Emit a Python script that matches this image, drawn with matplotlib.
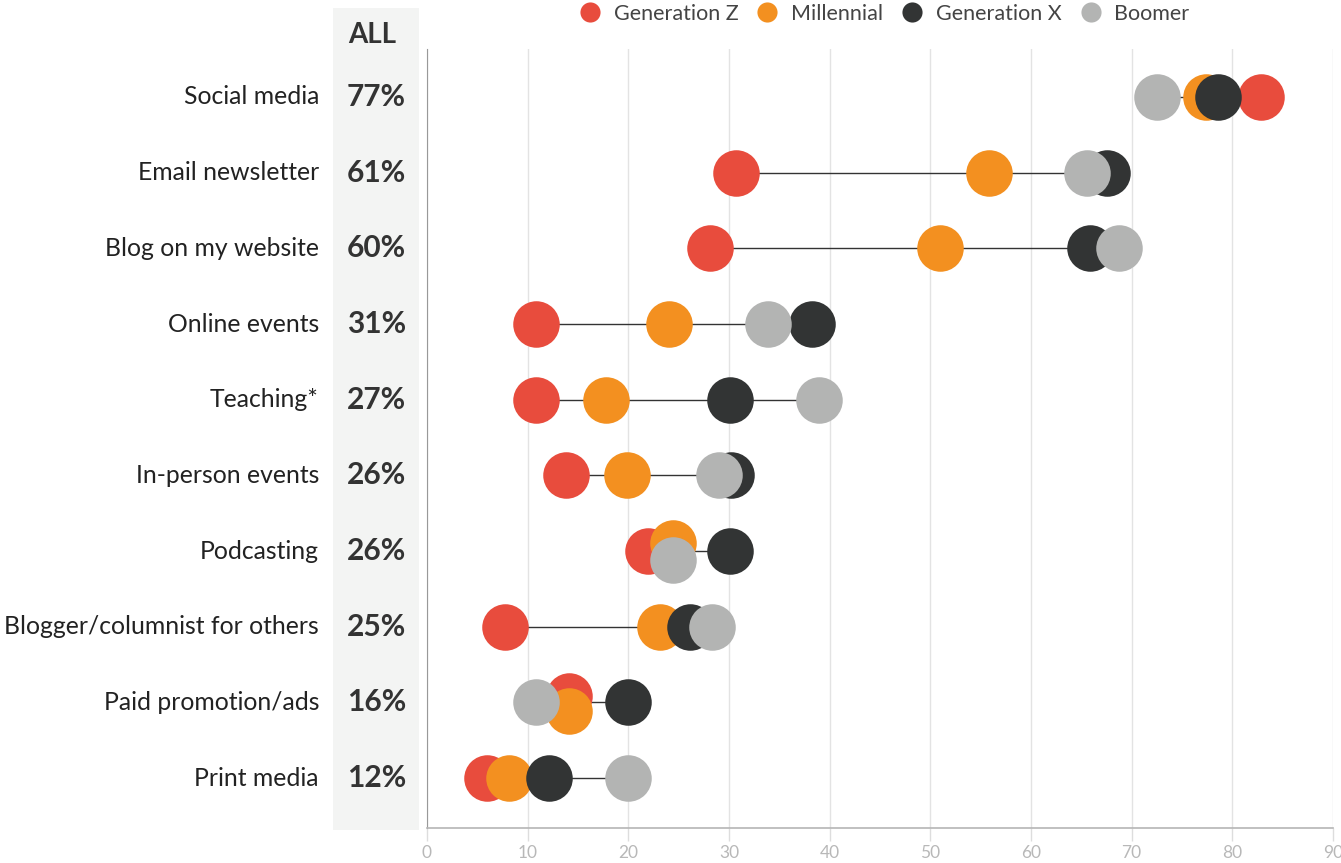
import matplotlib
matplotlib.use('Agg')
import matplotlib.pyplot as plt
import matplotlib.transforms as mtransforms
from matplotlib.patches import Rectangle
from matplotlib.lines import Line2D

categories = ['Social media', 'Email newsletter', 'Blog on my website', 'Online events',
              'Teaching*', 'In-person events', 'Podcasting', 'Blogger/columnist for others',
              'Paid promotion/ads', 'Print media']
all_pct = ['77%', '61%', '60%', '31%', '27%', '26%', '26%', '25%', '16%', '12%']

gen_z = [82.8, 30.7, 28.1, 10.8, 10.8, 13.8, 22.0, 7.7, 14.1, 6.0]
millennial = [77.4, 55.8, 51.0, 24.0, 17.8, 19.9, 24.4, 23.1, 14.1, 8.1]
gen_x = [78.6, 67.5, 65.9, 38.2, 30.1, 30.2, 30.1, 26.1, 20.0, 12.1]
boomer = [72.5, 65.6, 68.7, 33.9, 38.9, 29.0, 24.4, 28.3, 10.8, 20.0]

series = [
    ('Generation Z', gen_z, '#e84c3d'),
    ('Millennial', millennial, '#f39020'),
    ('Generation X', gen_x, '#323434'),
    ('Boomer', boomer, '#b3b4b3'),
]

# small vertical nudges where dots share the same value (row index -> series -> offset)
nudge = {6: {'Millennial': -0.11, 'Boomer': 0.12},
         8: {'Generation Z': -0.09, 'Millennial': 0.12}}

W, H = 1341, 863
font = 'Lato'
plt.rcParams['font.family'] = [font, 'DejaVu Sans']

fig = plt.figure(figsize=(W / 100, H / 100), dpi=100)
ax = fig.add_axes([427 / W, 1 - 828 / H, (1333 - 427) / W, (828 - 49) / H])

# gray "ALL" panel, behind everything
fig.patches.append(Rectangle((333 / W, 1 - 830 / H), 86 / W, 822 / H,
                             transform=fig.transFigure, facecolor='#f3f4f3',
                             edgecolor='none', zorder=-5))
fig.text(372 / W, 1 - 35 / H, 'ALL', ha='center', va='center', fontsize=20,
         fontweight='bold', color='#333333', family=font)

rows = list(range(len(categories)))

# connector lines
for i in rows:
    vals = [s[1][i] for s in series]
    ax.plot([min(vals), max(vals)], [i, i], color='#333333', lw=1, zorder=2)

for name, vals, color in series:
    ys = [i + nudge.get(i, {}).get(name, 0) for i in rows]
    ax.plot(vals, ys, 'o', ms=33.5, color=color, mec='none', zorder=3, label=name)

ax.set_xlim(0, 90)
ax.set_ylim(9.66, -0.634)
ax.set_xticks(range(0, 91, 10))
ax.set_yticks([])
ax.tick_params(axis='x', length=9, color='#dddddd', width=1, labelsize=12.5,
               labelcolor='#b8b8b8', pad=3)
for lbl in ax.get_xticklabels():
    lbl.set_family(font)
ax.grid(axis='x', color='#e3e3e3', lw=1, zorder=0)
ax.set_axisbelow(True)
for side in ['top', 'right']:
    ax.spines[side].set_visible(False)
ax.spines['left'].set_color('#999999')
ax.spines['bottom'].set_color('#b5b5b5')
ax.spines['bottom'].set_linewidth(1.2)
ax.patch.set_alpha(0)

trans = mtransforms.blended_transform_factory(fig.transFigure, ax.transData)
for i, (cat, pct) in enumerate(zip(categories, all_pct)):
    ax.text(319 / W, i, cat, transform=trans, ha='right', va='center', fontsize=17.8,
            color='#222222', family=font, clip_on=False)
    ax.text(376.5 / W, i, pct, transform=trans, ha='center', va='center', fontsize=21.5,
            fontweight='bold', color='#333333', family=font, clip_on=False)

handles = [Line2D([], [], marker='o', ls='none', ms=14.5, color=c, mec='none')
           for _, _, c in series]
fig.legend(handles, [s[0] for s in series], loc='center', ncol=4,
           bbox_to_anchor=(879 / W, 1 - 14 / H), frameon=False,
           handletextpad=0.1, columnspacing=0.35, labelcolor='#444444',
           prop={'family': font, 'size': 15.5})

fig.savefig('out.png', dpi=100)
